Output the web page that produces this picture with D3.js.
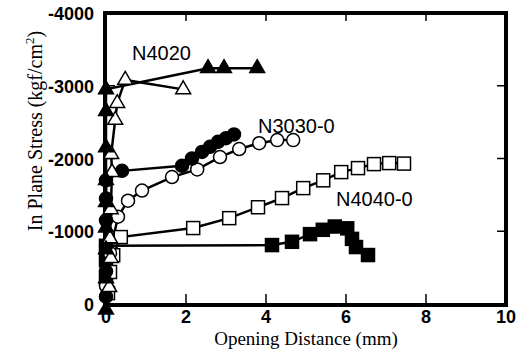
<!DOCTYPE html>
<html>
<head>
<meta charset="utf-8">
<script src="https://cdn.jsdelivr.net/npm/d3@7"></script>
<style>
  body { margin: 0; background: #fff; }
  svg { display: block; }
  .tick-label { font-family: "Liberation Sans", Arial, sans-serif; font-weight: bold; font-size: 18px; fill: #000; }
  .axis-title { font-family: "Liberation Serif", "Times New Roman", serif; font-size: 20px; fill: #000; }
  .series-label { font-family: "Liberation Sans", Arial, sans-serif; font-size: 20px; fill: #000; }
</style>
</head>
<body>
<svg id="chart" width="527" height="353"></svg>
<script>
// opening distance (mm), in plane stress (kgf/cm2)
const n4020Filled = [[0,80],[0,-350],[0,-750],[0,-1050],[0,-1400],[0,-1700],[0,-2150],[0,-2650],[0,-2950],[2.55,-3240],[2.95,-3240],[3.78,-3240]];
const n4020Open = [[0.08,-230],[0.12,-630],[0.1,-900],[0.12,-1300],[0.15,-1810],[0.13,-2060],[0.23,-2530],[0.28,-2760],[0.48,-3080],[1.93,-2950]];
const n3030Filled = [[0,-100],[0,-450],[0,-800],[0,-1150],[0,-1450],[0,-1700],[0.4,-1830],[1.9,-1900],[2.15,-2000],[2.4,-2090],[2.6,-2160],[2.8,-2230],[3.0,-2280],[3.2,-2330]];
const n3030Open = [[0,-250],[0.1,-700],[0.3,-1200],[0.55,-1420],[0.9,-1560],[1.65,-1745],[2.28,-1850],[2.85,-2020],[3.33,-2130],[3.83,-2210],[4.28,-2253],[4.68,-2253]];
const n4040Open = [[0.05,-150],[0.1,-440],[0.18,-670],[0.37,-920],[2.18,-1044],[3.08,-1180],[3.8,-1330],[4.4,-1456],[4.93,-1593],[5.43,-1700],[5.88,-1813],[6.3,-1868],[6.7,-1923],[7.08,-1937],[7.45,-1930]];
const n4040Filled = [[0,-350],[0,-600],[0,-800],[4.15,-810],[4.65,-855],[5.1,-960],[5.42,-1020],[5.72,-1065],[6.03,-1040],[6.15,-895],[6.25,-783],[6.55,-673]];

const xTicks = [0, 2, 4, 6, 8, 10];
const yTicks = [0, -1000, -2000, -3000, -4000];

const labels = [
  { text: "N4020", x: 0.65, y: -3352 },
  { text: "N3030-0", x: 3.8, y: -2349 },
  { text: "N4040-0", x: 5.75, y: -1346 }
];

const svg = d3.select("#chart");
const x = d3.scaleLinear().domain([0, 10]).range([106, 506]);
const y = d3.scaleLinear().domain([0, -4000]).range([304, 13]);

// frame
svg.append("rect")
  .attr("x", x(0) - 1).attr("y", y(-4000))
  .attr("width", x(10) - x(0) + 1).attr("height", y(0) - y(-4000) + 1)
  .attr("fill", "none").attr("stroke", "#000").attr("stroke-width", 4);

// inner ticks on all sides
xTicks.slice(1, -1).forEach(t => {
  svg.append("line").attr("x1", x(t)).attr("x2", x(t)).attr("y1", y(0)).attr("y2", y(0) - 10)
    .attr("stroke", "#000").attr("stroke-width", 1.5);
  svg.append("line").attr("x1", x(t)).attr("x2", x(t)).attr("y1", y(-4000)).attr("y2", y(-4000) + 8)
    .attr("stroke", "#000").attr("stroke-width", 1.5);
});
yTicks.slice(1, -1).forEach(t => {
  svg.append("line").attr("x1", x(10)).attr("x2", x(10) - 9).attr("y1", y(t)).attr("y2", y(t))
    .attr("stroke", "#000").attr("stroke-width", 1.5);
  svg.append("line").attr("x1", x(0)).attr("x2", x(0) + 9).attr("y1", y(t)).attr("y2", y(t))
    .attr("stroke", "#000").attr("stroke-width", 1.5);
});

// tick labels
svg.selectAll(".xlab").data(xTicks).enter().append("text")
  .attr("class", "tick-label")
  .attr("x", d => x(d)).attr("y", y(0) + 19)
  .attr("text-anchor", "middle")
  .text(d => d);
svg.selectAll(".ylab").data(yTicks).enter().append("text")
  .attr("class", "tick-label")
  .attr("x", 94).attr("y", d => y(d) + 7)
  .attr("text-anchor", "end")
  .text(d => d);

// axis titles
svg.append("text").attr("class", "axis-title")
  .attr("x", 306).attr("y", 345).attr("text-anchor", "middle")
  .style("font-size", "19px")
  .text("Opening Distance (mm)");
const yt = svg.append("text").attr("class", "axis-title")
  .attr("transform", "translate(42,131) rotate(-90)")
  .attr("text-anchor", "middle");
yt.append("tspan").text("In Plane Stress (kgf/cm");
yt.append("tspan").attr("font-size", "13px").attr("dy", -8).text("2");
yt.append("tspan").attr("dy", 8).text(")");

const line = d3.line().x(d => x(d[0])).y(d => y(d[1]));
const allSeries = [
  { data: n4040Filled, shape: "square", fill: "#000" },
  { data: n4040Open, shape: "square", fill: "#fff" },
  { data: n3030Open, shape: "circle", fill: "#fff" },
  { data: n3030Filled, shape: "circle", fill: "#000" },
  { data: n4020Open, shape: "triangle", fill: "#fff" },
  { data: n4020Filled, shape: "triangle", fill: "#000" }
];

allSeries.forEach(s => {
  svg.append("path").attr("d", line(s.data))
    .attr("fill", "none").attr("stroke", "#000").attr("stroke-width", 2.5);
});

allSeries.forEach(s => {
  const g = svg.append("g");
  if (s.shape === "circle") {
    g.selectAll("circle").data(s.data).enter().append("circle")
      .attr("cx", d => x(d[0])).attr("cy", d => y(d[1])).attr("r", 6.5)
      .attr("fill", s.fill).attr("stroke", "#000").attr("stroke-width", 1.5);
  } else if (s.shape === "square") {
    g.selectAll("rect").data(s.data).enter().append("rect")
      .attr("x", d => x(d[0]) - 6.5).attr("y", d => y(d[1]) - 6.5)
      .attr("width", 13).attr("height", 13)
      .attr("fill", s.fill).attr("stroke", "#000").attr("stroke-width", 1.5);
  } else {
    g.selectAll("path").data(s.data).enter().append("path")
      .attr("d", d3.symbol().type(d3.symbolTriangle).size(95))
      .attr("transform", d => `translate(${x(d[0])},${y(d[1])})`)
      .attr("fill", s.fill).attr("stroke", "#000").attr("stroke-width", 1.5);
  }
});

// series labels
svg.selectAll(".series-label").data(labels).enter().append("text")
  .attr("class", "series-label")
  .attr("x", d => x(d.x)).attr("y", d => y(d.y))
  .text(d => d.text);
</script>
</body>
</html>
